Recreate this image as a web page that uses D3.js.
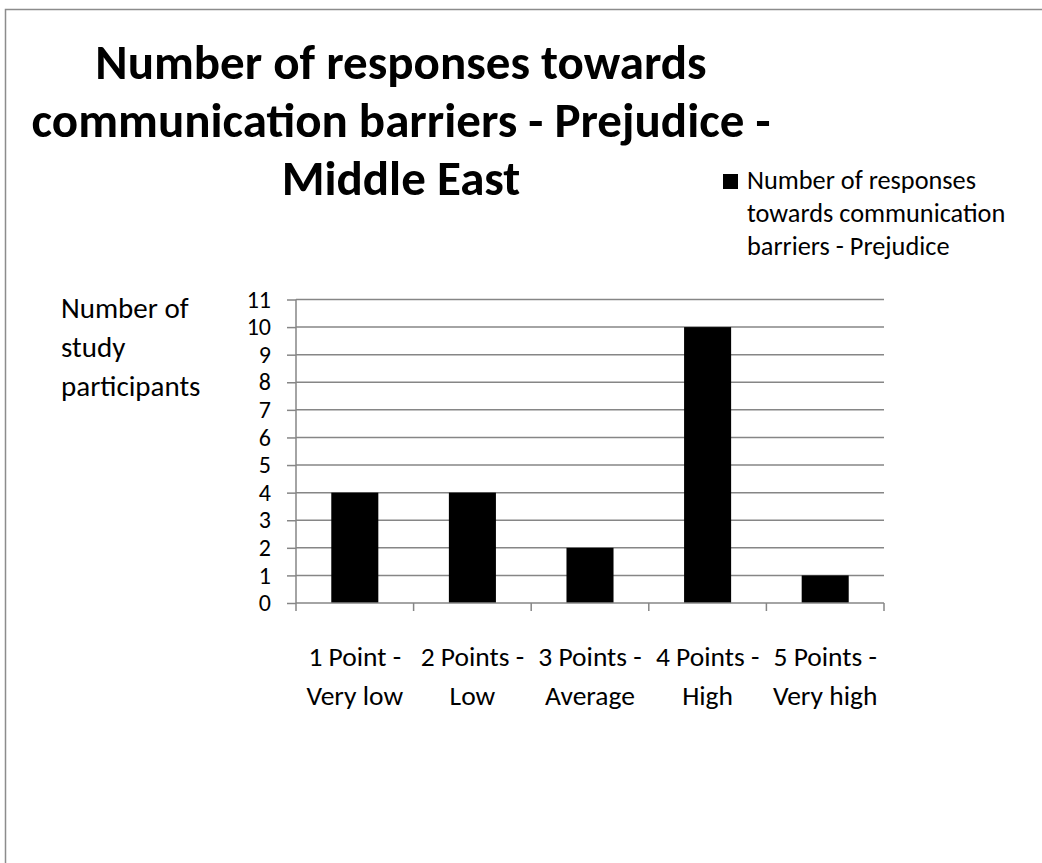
<!DOCTYPE html>
<html>
<head>
<meta charset="utf-8">
<script src="https://cdn.jsdelivr.net/npm/d3@7"></script>
<style>
  html, body { margin: 0; padding: 0; background: #fff; }
  svg { display: block; }
  text { font-family: Carlito, Calibri, Lato, "Noto Sans", sans-serif; fill: #000; }
</style>
</head>
<body>
<svg id="chart" width="1042" height="863"></svg>
<script>
// Survey answers for the Prejudice barrier, Middle East group
const categories = [
  ["1 Point -", "Very low"],
  ["2 Points -", "Low"],
  ["3 Points -", "Average"],
  ["4 Points -", "High"],
  ["5 Points -", "Very high"]
];
const responses = [4, 4, 2, 10, 1];
const yTicks = [0, 1, 2, 3, 4, 5, 6, 7, 8, 9, 10, 11];
const titleLines = ["Number of responses towards", "communication barriers - Prejudice -", "Middle East"];
const legendLines = ["Number of responses", "towards communication", "barriers - Prejudice"];
const yTitleLines = ["Number of", "study", "participants"];

const svg = d3.select("#chart");
const grid = "#868686";

// outer chart frame
svg.append("rect")
  .attr("x", 5.5).attr("y", 9.5)
  .attr("width", 1100).attr("height", 900)
  .attr("fill", "none").attr("stroke", "#8c8c8c").attr("stroke-width", 1.5);

const plot = { left: 296, right: 884, top: 299.5, bottom: 603 };

const x = d3.scaleBand()
  .domain(d3.range(categories.length))
  .range([plot.left, plot.right])
  .paddingInner(0.6).paddingOuter(0.3);
const xBand = d3.scaleBand()
  .domain(d3.range(categories.length))
  .range([plot.left, plot.right]);
const y = d3.scaleLinear().domain([0, 11]).range([plot.bottom, plot.top]);

// horizontal gridlines
svg.append("g")
  .selectAll("line")
  .data(yTicks.filter(t => t > 0))
  .join("line")
  .attr("x1", plot.left).attr("x2", plot.right)
  .attr("y1", d => y(d)).attr("y2", d => y(d))
  .attr("stroke", grid).attr("stroke-width", 1.5);

// bars
svg.append("g")
  .selectAll("rect")
  .data(responses)
  .join("rect")
  .attr("x", (d, i) => x(i))
  .attr("width", x.bandwidth())
  .attr("y", d => y(d))
  .attr("height", d => y(0) - y(d))
  .attr("fill", "#000");

// y axis
const yAxis = svg.append("g")
  .attr("transform", `translate(${plot.left},0)`)
  .call(d3.axisLeft(y).tickValues(yTicks).tickSize(9).tickPadding(16).tickFormat(d3.format("d")));
yAxis.selectAll("line, path").attr("stroke", grid).attr("stroke-width", 1.5);
yAxis.select(".domain").attr("d", `M0,${plot.top}V${plot.bottom}`);
yAxis.selectAll("text")
  .attr("font-size", 24).attr("fill", "#000")
  .style("font-family", "Carlito, Calibri, Lato, 'Noto Sans', sans-serif");

// x axis with ticks at category boundaries
const xAxisG = svg.append("g");
xAxisG.append("line")
  .attr("x1", plot.left).attr("x2", plot.right)
  .attr("y1", plot.bottom).attr("y2", plot.bottom)
  .attr("stroke", grid).attr("stroke-width", 1.5);
const bounds = d3.range(categories.length + 1).map(i =>
  i < categories.length ? xBand(i) : plot.right);
xAxisG.selectAll("line.tick")
  .data(bounds)
  .join("line")
  .attr("class", "tick")
  .attr("x1", d => d).attr("x2", d => d)
  .attr("y1", plot.bottom).attr("y2", plot.bottom + 8)
  .attr("stroke", grid).attr("stroke-width", 1.5);

// category labels, two lines each
const catText = svg.append("g")
  .selectAll("text")
  .data(categories)
  .join("text")
  .attr("text-anchor", "middle")
  .attr("font-size", 27.5);
catText.selectAll("tspan")
  .data((d, i) => d.map(s => ({ s, i })))
  .join("tspan")
  .attr("x", d => xBand(d.i) + xBand.bandwidth() / 2)
  .attr("y", (d, j) => 666 + j * 39)
  .text(d => d.s);

// y axis title
svg.append("text")
  .attr("font-size", 29)
  .selectAll("tspan")
  .data(yTitleLines)
  .join("tspan")
  .attr("x", 61)
  .attr("y", (d, i) => 318 + i * 39)
  .text(d => d);

// chart title
svg.append("text")
  .attr("text-anchor", "middle")
  .attr("font-size", 49)
  .attr("font-weight", "bold")
  .selectAll("tspan")
  .data(titleLines)
  .join("tspan")
  .attr("x", 401)
  .attr("y", (d, i) => 79 + i * 58)
  .text(d => d);

// legend
svg.append("rect")
  .attr("x", 723).attr("y", 174).attr("width", 15).attr("height", 15)
  .attr("fill", "#000");
svg.append("text")
  .attr("font-size", 26.3)
  .selectAll("tspan")
  .data(legendLines)
  .join("tspan")
  .attr("x", 747)
  .attr("y", (d, i) => 189 + i * 33)
  .text(d => d);
</script>
</body>
</html>
